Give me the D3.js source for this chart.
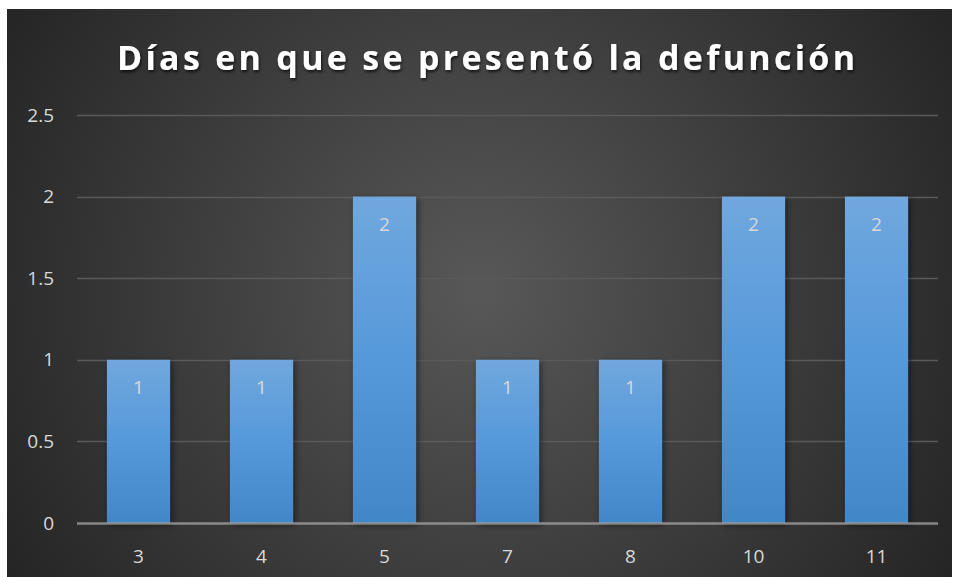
<!DOCTYPE html>
<html><head><meta charset="utf-8">
<script src="https://cdn.jsdelivr.net/npm/d3@7"></script>
<style>html,body{margin:0;padding:0;background:#fff;}svg{display:block;}</style>
</head><body>
<svg id="chart" width="954" height="577"></svg>
<script>
const categories = ["3","4","5","7","8","10","11"];
const values = [1,1,2,1,1,2,2];
const yTicks = [0,0.5,1,1.5,2,2.5];
const title = "Días en que se presentó la defunción";

const svg = d3.select("#chart");
const defs = svg.append("defs");
const bg = defs.append("radialGradient").attr("id","bg").attr("gradientUnits","userSpaceOnUse")
  .attr("cx",480).attr("cy",290).attr("r",560);
bg.append("stop").attr("offset","0").attr("stop-color","#585858");
bg.append("stop").attr("offset","1").attr("stop-color","#242424");
const bar = defs.append("linearGradient").attr("id","bar").attr("x1",0).attr("y1",0).attr("x2",0).attr("y2",1);
bar.append("stop").attr("offset","0").attr("stop-color","#71a7de");
bar.append("stop").attr("offset","0.5").attr("stop-color","#5599da");
bar.append("stop").attr("offset","1").attr("stop-color","#4287c8");
const sh = defs.append("filter").attr("id","sh").attr("x","-30%").attr("y","-10%").attr("width","160%").attr("height","130%");
sh.append("feDropShadow").attr("dx",2).attr("dy",2).attr("stdDeviation",3).attr("flood-color","#000").attr("flood-opacity",0.5);
const tsh = defs.append("filter").attr("id","tsh").attr("x","-5%").attr("y","-30%").attr("width","110%").attr("height","160%");
tsh.append("feDropShadow").attr("dx",1).attr("dy",2).attr("stdDeviation",1.5).attr("flood-color","#000").attr("flood-opacity",0.7);

svg.append("rect").attr("x",7).attr("y",9).attr("width",945).attr("height",568).attr("fill","url(#bg)");

const x = d3.scaleBand().domain(categories).range([77,938]).paddingInner(0.487).paddingOuter(0.2435);
const y = d3.scaleLinear().domain([0,2.5]).range([523,115]);
const FONT = "'Open Sans', 'Noto Sans', sans-serif";

svg.append("g").selectAll("line").data(yTicks.filter(d=>d>0)).join("line")
  .attr("x1",77).attr("x2",938).attr("y1",d=>Math.round(y(d))+0.5).attr("y2",d=>Math.round(y(d))+0.5)
  .attr("stroke","#5a5a5a").attr("stroke-width",1.5);

svg.append("g").selectAll("text").data(yTicks).join("text")
  .attr("x",54).attr("y",d=>y(d)).attr("dy","0.35em").attr("text-anchor","end")
  .attr("font-family",FONT).attr("font-size",19).attr("fill","#d9d9d9")
  .text(d=>d);

svg.append("g").selectAll("rect").data(values).join("rect")
  .attr("x",(d,i)=>x(categories[i])).attr("width",x.bandwidth())
  .attr("y",d=>y(d)).attr("height",d=>y(0)-y(d))
  .attr("fill","url(#bar)").attr("filter","url(#sh)");

svg.append("line").attr("x1",77).attr("x2",938).attr("y1",523.5).attr("y2",523.5)
  .attr("stroke","#a6a6a6").attr("stroke-opacity",0.75).attr("stroke-width",2.5);

svg.append("g").selectAll("text").data(values).join("text")
  .attr("x",(d,i)=>x(categories[i])+x.bandwidth()/2).attr("y",d=>y(d)+28).attr("dy","0.35em")
  .attr("text-anchor","middle").attr("font-family",FONT)
  .attr("font-size",19).attr("fill","#d9d9d9").text(d=>d);

svg.append("g").selectAll("text").data(categories).join("text")
  .attr("x",d=>x(d)+x.bandwidth()/2).attr("y",556).attr("dy","0.35em")
  .attr("text-anchor","middle").attr("font-family",FONT)
  .attr("font-size",19).attr("fill","#d9d9d9").text(d=>d);

const t = svg.append("text").attr("x",486).attr("y",70).attr("text-anchor","middle")
  .attr("font-family",FONT).attr("font-weight","bold")
  .attr("font-size",34).attr("fill","#ffffff").attr("filter","url(#tsh)").text(title);
const target = 738;
const len = t.node().getComputedTextLength();
const ls = (target - len) / (title.length - 1);
t.attr("letter-spacing", ls.toFixed(2)).attr("x", 486 + ls/2);
</script>
</body></html>
